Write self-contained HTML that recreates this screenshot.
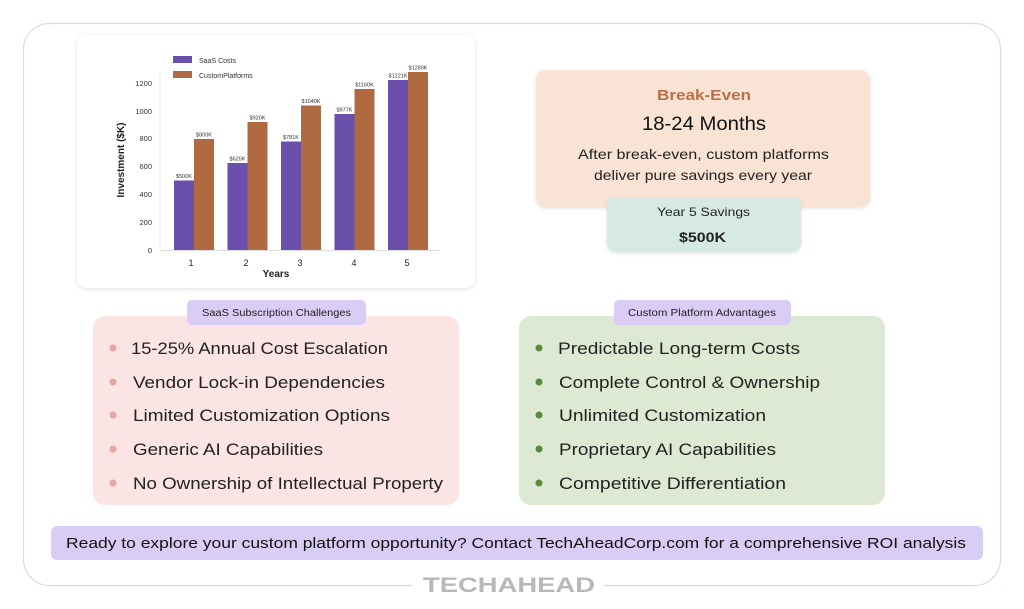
<!DOCTYPE html>
<html><head><meta charset="utf-8"><style>
html,body{margin:0;padding:0;background:#fff;}
svg{display:block;font-family:"Liberation Sans",sans-serif;}
</style></head><body>
<svg width="1024" height="609" viewBox="0 0 1024 609" xmlns="http://www.w3.org/2000/svg">
<defs>
<filter id="sh" x="-10%" y="-10%" width="120%" height="130%"><feDropShadow dx="0" dy="1" stdDeviation="2" flood-color="#000" flood-opacity="0.12"/></filter>
</defs>
<rect x="23.5" y="23.5" width="977" height="562" rx="26" fill="#fff" stroke="#d4dbea" stroke-width="1.2"/>
<rect x="412" y="578" width="192" height="14" fill="#fff"/>
<text x="423" y="592" font-size="21" font-weight="bold" fill="#b8b8b8" textLength="172" lengthAdjust="spacingAndGlyphs">TECHAHEAD</text>

<!-- chart card -->
<rect x="77" y="35" width="398" height="253" rx="10" fill="#fff" filter="url(#sh)"/>
<rect x="173" y="56" width="19" height="7" fill="#6a4fab"/>
<text x="199" y="63" font-size="7" fill="#333">SaaS Costs</text>
<rect x="173" y="71" width="19" height="7" fill="#b06a42"/>
<text x="199" y="78" font-size="7" fill="#333">CustomPlatforms</text>
<line x1="160" y1="72" x2="160" y2="250" stroke="#e6e6e6" stroke-width="0.8"/>
<line x1="160" y1="250.5" x2="440" y2="250.5" stroke="#ddd" stroke-width="1"/>
<g font-size="7.5" fill="#333" text-anchor="end">
<text x="152" y="253">0</text><text x="152" y="225">200</text><text x="152" y="197">400</text>
<text x="152" y="169">600</text><text x="152" y="141">800</text><text x="152" y="114">1000</text><text x="152" y="86">1200</text>
</g>
<text transform="translate(124,160) rotate(-90)" font-size="10" font-weight="bold" fill="#222" text-anchor="middle">Investment ($K)</text>
<g fill="#6a4fab">
<rect x="174" y="180.5" width="20" height="69.5"/>
<rect x="227.5" y="163" width="20" height="87"/>
<rect x="281" y="141.5" width="20" height="108.5"/>
<rect x="334.5" y="114" width="20" height="136"/>
<rect x="388" y="80" width="20" height="170"/>
</g>
<g fill="#b06a42">
<rect x="194" y="139" width="20" height="111"/>
<rect x="247.5" y="122" width="20" height="128"/>
<rect x="301" y="105.5" width="20" height="144.5"/>
<rect x="354.5" y="89" width="20" height="161"/>
<rect x="408" y="72" width="20" height="178"/>
</g>
<g font-size="5.5" fill="#333" text-anchor="middle">
<text x="184" y="178">$500K</text><text x="204" y="136.5">$800K</text>
<text x="237.5" y="160.5">$625K</text><text x="257.5" y="119.5">$920K</text>
<text x="291" y="139">$781K</text><text x="311" y="103">$1040K</text>
<text x="344.5" y="111.5">$977K</text><text x="364.5" y="86.5">$1160K</text>
<text x="398" y="77.5">$1221K</text><text x="418" y="69.5">$1280K</text>
</g>
<g font-size="9" fill="#222" text-anchor="middle">
<text x="191" y="266">1</text><text x="246" y="266">2</text><text x="300" y="266">3</text><text x="354" y="266">4</text><text x="407" y="266">5</text>
</g>
<text x="276" y="277" font-size="10" font-weight="bold" fill="#222" text-anchor="middle">Years</text>

<!-- break-even -->
<rect x="536" y="70" width="334" height="137" rx="10" fill="#f9e3d4" filter="url(#sh)"/>
<text x="657" y="100" font-size="15" font-weight="bold" fill="#bb6f47" textLength="94" lengthAdjust="spacingAndGlyphs">Break-Even</text>
<text x="642" y="130" font-size="19" fill="#111" textLength="124" lengthAdjust="spacingAndGlyphs">18-24 Months</text>
<text x="578" y="159" font-size="14" fill="#222" textLength="251" lengthAdjust="spacingAndGlyphs">After break-even, custom platforms</text>
<text x="594" y="180" font-size="14" fill="#222" textLength="218" lengthAdjust="spacingAndGlyphs">deliver pure savings every year</text>
<rect x="607" y="197" width="194" height="55" rx="9" fill="#d6eae2" filter="url(#sh)"/>
<text x="657" y="216" font-size="12" fill="#222" textLength="93" lengthAdjust="spacingAndGlyphs">Year 5 Savings</text>
<text x="679" y="242" font-size="14" font-weight="bold" fill="#222" textLength="47" lengthAdjust="spacingAndGlyphs">$500K</text>

<!-- left panel -->
<rect x="93" y="316" width="366" height="189" rx="12" fill="#fbe4e4"/>
<rect x="187" y="300" width="179" height="25" rx="5" fill="#d9cdf5"/>
<text x="202" y="316" font-size="10" fill="#222" textLength="149" lengthAdjust="spacingAndGlyphs">SaaS Subscription Challenges</text>
<g fill="#e8a3a3"><circle cx="113" cy="348" r="3.5"/><circle cx="113" cy="382" r="3.5"/><circle cx="113" cy="415" r="3.5"/><circle cx="113" cy="449" r="3.5"/><circle cx="113" cy="483" r="3.5"/></g>
<g font-size="17" fill="#222" lengthAdjust="spacingAndGlyphs">
<text x="131" y="354" textLength="257" lengthAdjust="spacingAndGlyphs">15-25% Annual Cost Escalation</text>
<text x="133" y="388" textLength="252" lengthAdjust="spacingAndGlyphs">Vendor Lock-in Dependencies</text>
<text x="133" y="421" textLength="257" lengthAdjust="spacingAndGlyphs">Limited Customization Options</text>
<text x="133" y="455" textLength="190" lengthAdjust="spacingAndGlyphs">Generic AI Capabilities</text>
<text x="133" y="489" textLength="310" lengthAdjust="spacingAndGlyphs">No Ownership of Intellectual Property</text>
</g>

<!-- right panel -->
<rect x="519" y="316" width="366" height="189" rx="12" fill="#dde9d2"/>
<rect x="614" y="300" width="177" height="25" rx="5" fill="#d9cdf5"/>
<text x="628" y="316" font-size="10" fill="#222" textLength="148" lengthAdjust="spacingAndGlyphs">Custom Platform Advantages</text>
<g fill="#5b8a3d"><circle cx="539" cy="348" r="3.5"/><circle cx="539" cy="382" r="3.5"/><circle cx="539" cy="415" r="3.5"/><circle cx="539" cy="449" r="3.5"/><circle cx="539" cy="483" r="3.5"/></g>
<g font-size="17" fill="#222">
<text x="558" y="354" textLength="242" lengthAdjust="spacingAndGlyphs">Predictable Long-term Costs</text>
<text x="559" y="388" textLength="261" lengthAdjust="spacingAndGlyphs">Complete Control &amp; Ownership</text>
<text x="559" y="421" textLength="207" lengthAdjust="spacingAndGlyphs">Unlimited Customization</text>
<text x="559" y="455" textLength="217" lengthAdjust="spacingAndGlyphs">Proprietary AI Capabilities</text>
<text x="559" y="489" textLength="227" lengthAdjust="spacingAndGlyphs">Competitive Differentiation</text>
</g>

<!-- bottom bar -->
<rect x="51" y="526" width="932" height="34" rx="6" fill="#d7cdf5"/>
<text x="66" y="548" font-size="15" fill="#111" textLength="900" lengthAdjust="spacingAndGlyphs">Ready to explore your custom platform opportunity? Contact TechAheadCorp.com for a comprehensive ROI analysis</text>
</svg>
</body></html>
